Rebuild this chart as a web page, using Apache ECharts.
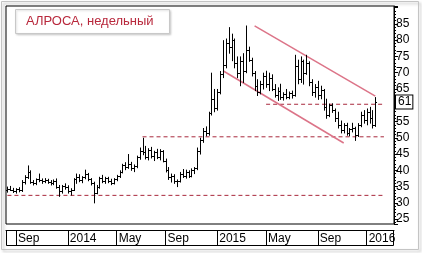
<!DOCTYPE html>
<html>
<head>
<meta charset="utf-8">
<script src="https://cdn.jsdelivr.net/npm/echarts@6/dist/echarts.min.js"></script>
<style>
    html, body { margin: 0; padding: 0; background: #fff; }
    #main { width: 422px; height: 253px; }
</style>
</head>
<body>
<div id="main"></div>
<script>
// weekly bars, first week 2013-08-12
var startDay = Date.UTC(2013, 7, 12);
var weekCount = 135;

var opens = [
    34.0, 34.3, 34.0, 33.6, 34.2, 33.8, 36.5, 38.0, 39.5, 36.5,
    36.0, 37.2, 37.0, 36.8, 37.0, 36.5, 36.2, 36.8, 35.0, 33.5,
    35.2, 35.0, 33.5, 34.0, 37.2, 38.0, 37.0, 37.8, 39.0, 37.2,
    36.0, 33.0, 35.0, 37.5, 36.8, 37.6, 36.6, 36.2, 37.2, 38.2,
    39.6, 41.5, 41.0, 42.0, 40.6, 41.2, 44.0, 46.0, 45.5, 44.2,
    46.2, 44.4, 45.6, 44.0, 45.8, 43.0, 40.2, 37.8, 38.4, 36.6,
    36.8, 39.0, 38.2, 39.6, 38.4, 40.2, 40.6, 46.0, 49.4, 52.0,
    51.4, 57.5, 62.0, 59.0, 64.0, 69.5, 72.5, 79.0, 78.0, 80.0,
    73.0, 70.0, 73.5, 70.5, 77.0, 74.0, 70.0, 66.0, 64.0, 66.5,
    69.0, 66.5, 68.5, 65.0, 63.2, 64.5, 62.5, 63.5, 62.6, 63.8,
    63.0, 72.0, 68.0, 73.5, 70.0, 73.0, 67.0, 64.0, 65.5, 63.0,
    64.6, 59.5, 57.0, 60.0, 58.5, 56.0, 54.0, 52.5, 53.8, 51.5,
    52.6, 53.0, 51.0, 54.0, 57.0, 55.5, 58.0, 56.0, 54.0
];
var highs = [
    35.0, 35.2, 34.6, 34.5, 34.8, 37.0, 38.5, 41.5, 40.0, 37.0,
    37.5, 39.0, 37.5, 37.6, 37.4, 37.0, 37.2, 37.5, 35.5, 35.5,
    36.0, 35.4, 34.5, 37.6, 39.0, 38.8, 38.2, 40.2, 39.2, 37.6,
    36.5, 35.5, 38.0, 38.6, 38.0, 38.0, 37.4, 37.6, 38.6, 40.0,
    42.0, 42.5, 45.0, 42.6, 41.8, 44.5, 47.0, 50.0, 47.5, 46.8,
    47.2, 46.0, 46.6, 46.5, 46.2, 43.6, 41.0, 39.0, 38.8, 37.2,
    39.5, 40.4, 40.2, 40.0, 40.6, 41.0, 47.0, 50.0, 53.0, 53.5,
    58.0, 70.0, 65.0, 65.0, 70.5, 80.0, 80.5, 84.0, 82.0, 80.5,
    75.0, 75.0, 76.0, 84.5, 78.0, 74.6, 70.5, 68.0, 67.5, 70.0,
    70.6, 70.0, 69.5, 66.5, 65.5, 66.6, 64.0, 65.0, 64.2, 64.5,
    75.5, 74.0, 75.0, 74.0, 75.5, 73.5, 68.0, 66.5, 67.5, 66.0,
    65.0, 62.0, 60.5, 60.6, 59.0, 58.0, 55.3, 54.5, 54.6, 53.0,
    54.6, 53.4, 54.5, 58.0, 58.5, 59.0, 59.5, 58.5, 62.5
];
var lows = [
    33.3, 33.8, 33.2, 33.0, 33.4, 33.5, 35.8, 37.5, 36.0, 35.5,
    35.6, 36.5, 36.0, 36.2, 36.0, 35.5, 35.6, 34.5, 32.0, 33.0,
    34.2, 33.0, 32.4, 33.8, 36.0, 36.5, 36.2, 37.4, 36.8, 35.5,
    30.0, 32.8, 34.5, 36.2, 36.0, 36.2, 35.6, 35.8, 36.8, 37.8,
    39.2, 40.2, 40.6, 40.0, 39.6, 40.8, 43.4, 44.8, 43.5, 43.2,
    43.8, 43.0, 43.6, 43.2, 42.6, 39.5, 37.2, 36.4, 36.0, 35.0,
    36.4, 37.8, 37.6, 37.8, 38.0, 39.0, 40.2, 45.0, 48.6, 50.6,
    50.8, 57.0, 58.0, 58.5, 63.5, 68.5, 71.5, 76.0, 73.7, 71.5,
    68.5, 66.0, 67.0, 70.0, 73.5, 69.0, 64.5, 63.0, 63.5, 65.0,
    65.5, 64.5, 64.5, 62.5, 61.5, 61.8, 61.6, 62.0, 62.0, 62.2,
    62.8, 66.6, 67.0, 66.5, 69.5, 66.0, 63.0, 62.5, 61.8, 62.0,
    58.5, 56.0, 56.5, 57.8, 55.0, 53.0, 51.5, 51.5, 50.8, 50.6,
    51.8, 49.2, 50.4, 53.4, 54.5, 54.0, 54.5, 53.0, 53.5
];
var closes = [
    34.3, 34.0, 33.6, 34.2, 33.8, 36.5, 38.0, 39.5, 36.5, 36.0,
    37.2, 37.0, 36.8, 37.0, 36.5, 36.2, 36.8, 35.0, 33.5, 35.2,
    35.0, 33.5, 34.0, 37.2, 38.0, 37.0, 37.8, 39.0, 37.2, 36.0,
    33.0, 35.0, 37.5, 36.8, 37.6, 36.6, 36.2, 37.2, 38.2, 39.6,
    41.5, 41.0, 42.0, 40.6, 41.2, 44.0, 46.0, 45.5, 44.2, 46.2,
    44.4, 45.6, 44.0, 45.8, 43.0, 40.2, 37.8, 38.4, 36.6, 36.8,
    39.0, 38.2, 39.6, 38.4, 40.2, 40.6, 46.0, 49.4, 52.0, 51.4,
    57.5, 62.0, 59.0, 64.0, 69.5, 72.5, 79.0, 78.0, 80.0, 73.0,
    70.0, 73.5, 70.5, 77.0, 74.0, 70.0, 66.0, 64.0, 66.5, 69.0,
    66.5, 68.5, 65.0, 63.2, 64.5, 62.5, 63.5, 62.6, 63.8, 63.0,
    72.0, 68.0, 73.5, 70.0, 73.0, 67.0, 64.0, 65.5, 63.0, 64.6,
    59.5, 57.0, 60.0, 58.5, 56.0, 54.0, 52.5, 53.8, 51.5, 52.6,
    53.0, 51.0, 54.0, 57.0, 55.5, 58.0, 56.0, 54.0, 61.0
];

var tickDates = ['2013-09-02', '2014-01-06', '2014-05-05', '2014-09-01', '2015-01-05', '2015-05-04', '2015-09-07', '2016-01-04'];
var tickLabels = ['Sep', '2014', 'May', 'Sep', '2015', 'May', 'Sep', '2016'];
var priceLabels = [25, 30, 35, 40, 45, 50, 55, 60, 65, 70, 75, 80, 85];

// drawn lines: [date, price] pairs
var channelUpper = [['2015-04-06', 84.4], ['2016-01-25', 62.8]];
var channelLower = [['2015-01-19', 70.6], ['2015-11-09', 48.4]];
var level60 = [['2015-05-04', 60.3], ['2016-02-15', 60.3]];
var level50 = [['2014-07-07', 50.3], ['2016-02-15', 50.3]];
var level32 = [['2013-08-12', 32.3], ['2016-02-15', 32.3]];

var lastPrice = 61;

var weekDates = [];
for (var i = 0; i < weekCount; i++) {
    weekDates.push(new Date(startDay + i * 7 * 86400000).toISOString().slice(0, 10));
}

var ohlc = [];
for (var i = 0; i < closes.length; i++) {
    ohlc.push([i, opens[i], highs[i], lows[i], closes[i]]);
}

function isTick(index, value) {
    return tickDates.indexOf(weekDates[index]) >= 0;
}

function renderBar(params, api) {
    var x = api.value(0);
    var hi = api.coord([x, api.value(2)]);
    var lo = api.coord([x, api.value(3)]);
    var op = api.coord([x, api.value(1)]);
    var cl = api.coord([x, api.value(4)]);
    var px = Math.round(hi[0]) + 0.5;
    var st = { stroke: '#000', lineWidth: 1 };
    return {
        type: 'group',
        children: [
            { type: 'line', shape: { x1: px, y1: hi[1], x2: px, y2: lo[1] + 0.5 }, style: st },
            { type: 'line', shape: { x1: px - 1.5, y1: Math.round(op[1]) + 0.5, x2: px, y2: Math.round(op[1]) + 0.5 }, style: st },
            { type: 'line', shape: { x1: px, y1: Math.round(cl[1]) + 0.5, x2: px + 1.5, y2: Math.round(cl[1]) + 0.5 }, style: st }
        ]
    };
}

var fontName = 'Liberation Sans, Arial, sans-serif';

function drawnLine(name, data, color, width, type) {
    return {
        name: name,
        type: 'line',
        data: data,
        symbol: 'none',
        silent: true,
        z: 1,
        lineStyle: { color: color, width: width, type: type }
    };
}

var lastLine = drawnLine('level60', level60, '#a8283c', 1, [4, 3]);
lastLine.clip = false;
lastLine.markLine = {
    silent: true,
    symbol: 'none',
    animation: false,
    lineStyle: { color: 'rgba(0,0,0,0)', width: 1, type: 'solid' },
    data: [{ yAxis: lastPrice }],
    label: {
        show: true,
        position: 'end',
        distance: 2,
        opacity: 1,
        formatter: String(lastPrice),
        color: '#000',
        fontSize: 12,
        fontFamily: fontName,
        backgroundColor: '#fff',
        borderColor: '#000',
        borderWidth: 1,
        padding: [1, 1, 0, 2]
    }
};

var myChart = echarts.init(document.getElementById('main'));
var option = {
    animation: false,
    backgroundColor: '#fff',
    title: {
        text: 'АЛРОСА, недельный',
        left: 15,
        top: 9,
        padding: [6, 16, 6, 11],
        backgroundColor: '#fff',
        borderColor: '#c8c8c8',
        borderWidth: 1,
        shadowColor: 'rgba(0,0,0,0.15)',
        shadowBlur: 2,
        shadowOffsetX: 1,
        shadowOffsetY: 1,
        textStyle: {
            color: '#b8283c',
            fontSize: 13,
            fontWeight: 'normal',
            fontFamily: fontName
        },
        z: 10
    },
    graphic: [
        {
            type: 'rect',
            shape: { x: 1.5, y: 1.5, width: 417, height: 248 },
            style: { fill: 'none', stroke: '#c4c4c4', lineWidth: 1, shadowColor: 'rgba(0,0,0,0.3)', shadowBlur: 3, shadowOffsetX: 2, shadowOffsetY: 2 },
            z: -1
        },
        {
            type: 'rect',
            shape: { x: 6.5, y: 230.5, width: 387, height: 15 },
            style: { fill: 'none', stroke: '#000', lineWidth: 1 },
            z: 5
        }
    ],
    grid: {
        left: 6,
        right: 28,
        top: 6,
        bottom: 29,
        show: true,
        backgroundColor: '#fff',
        borderColor: '#000',
        borderWidth: 1
    },
    xAxis: {
        type: 'category',
        data: weekDates,
        boundaryGap: true,
        offset: 6,
        axisLine: { show: true, lineStyle: { color: '#000', width: 1 } },
        axisTick: {
            show: true,
            alignWithLabel: true,
            interval: isTick,
            length: 15,
            lineStyle: { color: '#000' }
        },
        axisLabel: {
            interval: isTick,
            formatter: function (value) {
                return tickLabels[tickDates.indexOf(value)];
            },
            align: 'left',
            verticalAlign: 'top',
            padding: [0, 0, 0, 2],
            margin: 3,
            color: '#000',
            fontSize: 12,
            fontFamily: fontName
        },
        splitLine: { show: false }
    },
    yAxis: {
        type: 'value',
        position: 'right',
        min: 23.5,
        max: 90.5,
        splitNumber: 13,
        axisLine: { show: true, lineStyle: { color: '#000' } },
        axisTick: { show: true, length: 4, lineStyle: { color: '#000' } },
        minorTick: { show: true, splitNumber: 5, length: 2, lineStyle: { color: '#000' } },
        axisLabel: {
            formatter: function (v) {
                return priceLabels.indexOf(v) >= 0 ? String(v) : '';
            },
            showMinLabel: false,
            showMaxLabel: false,
            margin: 2,
            color: '#000',
            fontSize: 12,
            fontFamily: fontName
        },
        splitLine: { show: false }
    },
    series: [
        drawnLine('level32', level32, '#a8283c', 1, [4, 3]),
        drawnLine('level50', level50, '#a8283c', 1, [4, 3]),
        lastLine,
        drawnLine('channelUpper', channelUpper, '#dc7488', 1.5, 'solid'),
        drawnLine('channelLower', channelLower, '#dc7488', 1.5, 'solid'),
        {
            name: 'АЛРОСА',
            type: 'custom',
            renderItem: renderBar,
            data: ohlc,
            encode: { x: 0, y: [1, 2, 3, 4] },
            z: 3
        }
    ]
};
myChart.setOption(option);
</script>
</body>
</html>
